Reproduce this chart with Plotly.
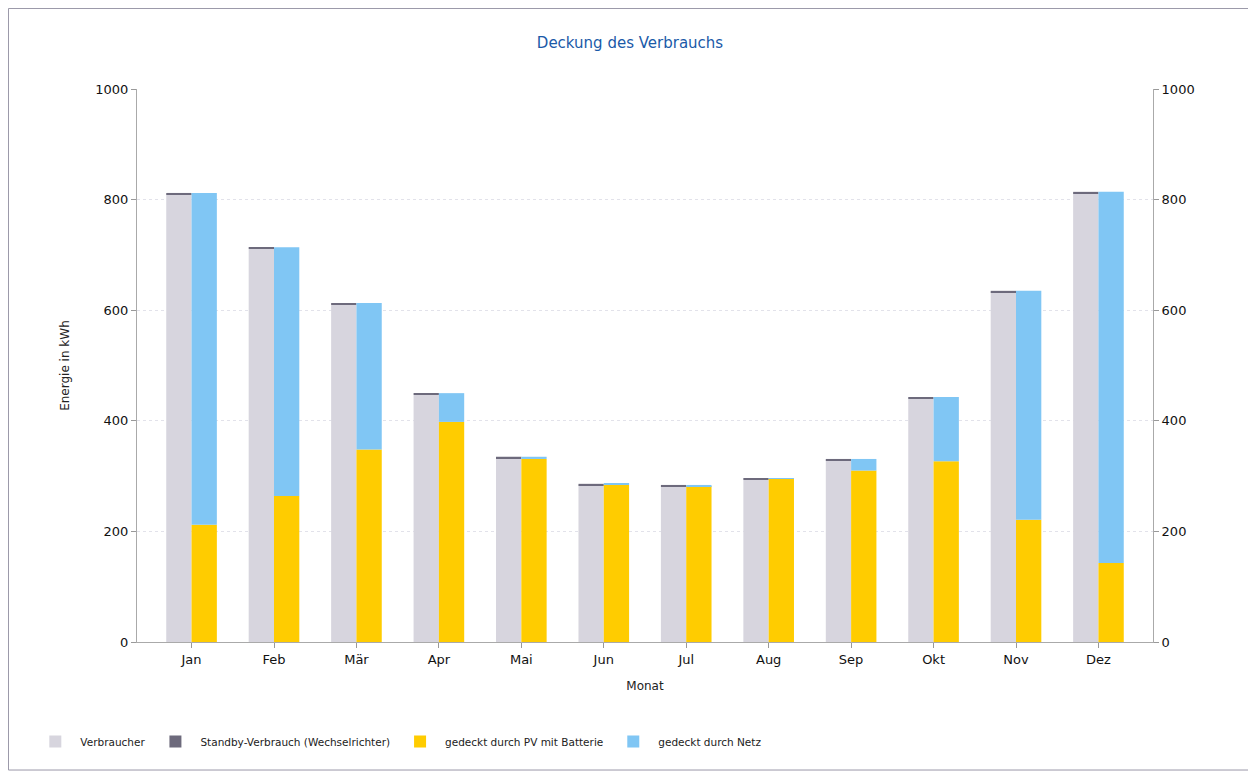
import plotly.graph_objects as go

months = ["Jan", "Feb", "Mär", "Apr", "Mai", "Jun", "Jul", "Aug", "Sep", "Okt", "Nov", "Dez"]
verbraucher = [809, 711, 610, 447, 332, 283, 281, 293, 328, 440, 632, 811]
standby = [3, 3, 3, 3, 3, 3, 3, 3, 3, 3, 3, 3]
pv_batterie = [212, 264, 348, 398, 331, 284, 282, 295, 310, 327, 221, 143]
netz = [600, 450, 265, 52, 4, 2, 2, 1, 21, 116, 414, 671]
y_ticks = [0, 200, 400, 600, 800, 1000]

font_family = "DejaVu Sans, Verdana, sans-serif"

fig = go.Figure()
fig.add_trace(go.Bar(name="Verbraucher", x=months, y=verbraucher, offsetgroup="a",
                     marker=dict(color="#d7d5de", line=dict(width=0))))
fig.add_trace(go.Bar(name="Standby-Verbrauch (Wechselrichter)", x=months, y=standby, base=verbraucher,
                     offsetgroup="a", marker=dict(color="#6d6a7c", line=dict(width=0))))
fig.add_trace(go.Bar(name="gedeckt durch PV mit Batterie", x=months, y=pv_batterie, offsetgroup="b",
                     marker=dict(color="#ffcc00", line=dict(width=0))))
fig.add_trace(go.Bar(name="gedeckt durch Netz", x=months, y=netz, base=pv_batterie, offsetgroup="b",
                     marker=dict(color="#80c6f4", line=dict(width=0))))
fig.add_trace(go.Scatter(x=months, y=verbraucher, yaxis="y2", mode="markers",
                         marker=dict(opacity=0), showlegend=False, hoverinfo="skip"))

W, H = 1248, 765
fig.update_layout(
    width=W, height=H,
    paper_bgcolor="white", plot_bgcolor="white",
    margin=dict(l=129, r=103, t=81, b=131),
    barmode="group", bargap=0.386, bargroupgap=0,
    font=dict(family=font_family, size=12, color="#222"),
    title=dict(text="Deckung des Verbrauchs", x=622 / W, xref="container", xanchor="center",
               y=1 - 35 / H, yanchor="middle",
               font=dict(family=font_family, size=15, color="#1a5aa8")),
    xaxis=dict(title=dict(text="Monat", font=dict(size=12), standoff=16),
               showline=True, linecolor="#aaa", linewidth=1,
               ticks="outside", ticklen=5, tickcolor="#999",
               tickfont=dict(size=13, color="#111"), showgrid=False),
    yaxis=dict(title=dict(text="Energie in kWh", font=dict(size=12), standoff=23),
               range=[0, 1000], tickvals=y_ticks,
               showline=True, linecolor="#aaa", linewidth=1,
               ticks="outside", ticklen=5, tickcolor="#999",
               tickfont=dict(size=13, color="#111"),
               showgrid=True, gridcolor="#e2e2ea", griddash="dot", zeroline=False),
    yaxis2=dict(overlaying="y", side="right", range=[0, 1000], tickvals=y_ticks,
                showline=True, linecolor="#aaa", linewidth=1,
                ticks="outside", ticklen=5, tickcolor="#999",
                tickfont=dict(size=13, color="#111"), showgrid=False, zeroline=False),
    legend=dict(orientation="h", x=-0.105, xanchor="left", y=-0.18, yanchor="middle",
                font=dict(size=10.5, color="#222"), itemwidth=40, tracegroupgap=0,
                traceorder="normal"),
    shapes=[dict(type="rect", xref="paper", yref="paper",
                 x0=-0.1265, x1=1.0974, y0=-0.2315, y1=1.1456,
                 line=dict(color="#9a98a8", width=1), layer="below")],
)

fig.write_html("out.html")
